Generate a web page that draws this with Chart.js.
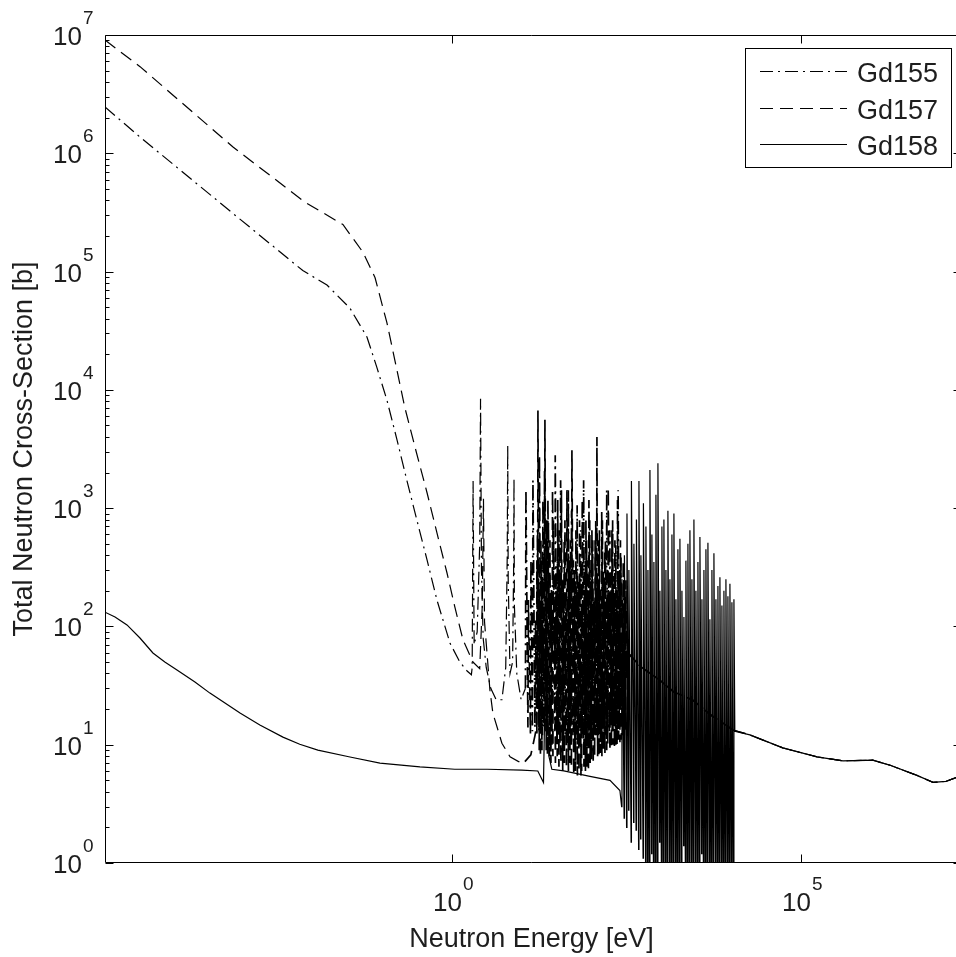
<!DOCTYPE html>
<html>
<head>
<meta charset="utf-8">
<title>Gd total neutron cross-section</title>
<script src="https://cdn.jsdelivr.net/npm/chart.js@4.4.1/dist/chart.umd.min.js"></script>
<style>
  html, body { margin: 0; padding: 0; background: #fff; overflow: hidden; }
  canvas { display: block; }
</style>
</head>
<body>
<canvas id="xs" width="956" height="957"></canvas>
<script>
// ── data: [energy eV, cross-section b] ──────────────────────────────────────

const seriesNames = ["Gd155", "Gd157", "Gd158"]

const gd155Thermal = [
  [1.07e-5, 2.46e6], [3.4e-5, 1.37e6], [7.3e-4, 3.1e5], [7.3e-3, 1.02e5],
  [0.0162, 7.7e4], [0.0346, 4.9e4], [0.0606, 2.8e4], [0.084, 1.55e4],
  [0.117, 8.2e3], [0.163, 3.8e3], [0.227, 1.7e3], [0.315, 790], [0.44, 365],
  [0.61, 167], [0.94, 72], [1.3, 50], [1.65, 42], [1.9, 39]
]

const gd155LowResonances = [
  [1.95, 45], [2.01, 1700], [2.08, 70], [2.3, 90], [2.5, 500], [2.57, 8400],
  [2.65, 300], [2.8, 80], [3.1, 45], [3.6, 30], [4.3, 24], [5.2, 24],
  [5.9, 45], [6.2, 400], [6.3, 3400], [6.4, 250], [6.8, 40], [7.4, 50],
  [7.65, 300], [7.75, 1800], [7.85, 150], [8.5, 40], [9.8, 24]
]

const gd155Resonances = [
  [11.3, 30], [11.49, 1420], [12.27, 14], [12.47, 167], [13.33, 12], [13.55, 363],
  [14.23, 13], [14.47, 1720], [15.46, 14], [15.72, 113], [16.51, 12], [16.78, 650],
  [17.64, 13], [17.93, 2800], [18.84, 15], [19.15, 363], [19.79, 12], [20.12, 1170],
  [20.80, 14], [21.22, 2090], [22.22, 13], [22.59, 246], [23.73, 11], [24.12, 790],
  [25.35, 12], [25.77, 167], [27.08, 10], [27.62, 1420], [29.9, 13], [30.2, 2800],
  [31.93, 11], [32.46, 363], [33.56, 12], [34.12, 650], [35.26, 10], [36.08, 1720],
  [37.66, 13], [38.28, 203], [39.6, 11], [40.5, 535], [42.26, 12], [42.97, 167],
  [45.91, 10], [46.52, 1420], [48.2, 12], [49.03, 363], [50.68, 11], [51.69, 955],
  [54.14, 12], [55.04, 363], [57.83, 10], [58.79, 203], [61.2, 11], [62.19, 1060],
  [64.9, 12], [66.0, 246], [68.9, 10], [70.03, 650], [72.87, 12], [74.08, 167],
  [75.8, 11], [77.07, 1720], [80.45, 12], [81.79, 363], [83.7, 13], [85.1, 535],
  [88.83, 11], [90.3, 203], [92.7, 12], [94.27, 790], [98.04, 13], [99.67, 300],
  [102.3, 11], [104.0, 535], [108.2, 13], [110.0, 167], [113.0, 12], [114.9, 790],
  [119.5, 14], [121.5, 246], [124.7, 12], [126.8, 535], [131.0, 14], [133.2, 203],
  [137.7, 12], [140.0, 955], [144.7, 14], [147.1, 300], [152.1, 13], [154.6, 440],
  [162.4, 12], [165.1, 1420], [171.8, 14], [174.7, 246], [179.9, 13], [182.9, 650],
  [188.5, 15], [191.6, 203], [197.4, 13], [200.7, 790], [208.0, 15], [211.5, 300],
  [219.2, 14], [222.9, 485], [227.4, 16], [231.2, 167], [236.5, 14], [240.5, 1420],
  [249.4, 16], [253.6, 300], [259.5, 15], [263.8, 400], [273.5, 17], [278.1, 167],
  [286.4, 16], [291.2, 330], [298.0, 18], [303.0, 167], [312, 35]
]

const gd157Thermal = [
  [1.07e-5, 9.06e6], [3.4e-5, 5.4e6], [7.3e-4, 1.13e6], [7.8e-3, 3.87e5],
  [0.0274, 2.5e5], [0.053, 1.46e5], [0.079, 8.9e4], [0.117, 3.7e4],
  [0.163, 1.47e4], [0.21, 7.2e3], [0.295, 3.3e3], [0.44, 1.35e3], [0.61, 617],
  [0.85, 283], [1.1, 146], [1.44, 77], [2.0, 50], [2.5, 44]
]

const gd157LowResonances = [
  [2.72, 150], [2.83, 1200], [2.93, 110], [3.5, 29], [3.86, 18.5], [5.2, 10.3],
  [6.8, 7.9], [9.0, 7.2], [11.1, 7.2], [13.5, 8.2], [15.5, 12]
]

const gd157Resonances = [
  [16.24, 14], [16.51, 363], [16.85, 20], [17.07, 6700], [17.82, 9], [18.11, 167],
  [18.53, 8], [18.84, 535], [19.47, 9], [19.79, 203], [21.14, 15], [21.49, 5580],
  [22.45, 9], [22.81, 790], [23.34, 8], [23.73, 1170], [24.94, 8], [25.35, 535],
  [26.2, 7], [26.64, 203], [27.99, 8], [28.45, 790], [30.4, 7], [30.9, 246],
  [32.25, 8], [32.78, 1170], [34.12, 6.5], [34.69, 300], [36.44, 7], [37.05, 1420],
  [38.68, 6], [39.32, 246], [40.9, 7], [41.58, 790], [43.7, 6.5], [44.42, 1420],
  [46.66, 6], [47.44, 363], [49.03, 7], [49.84, 535], [51.52, 6.5], [52.38, 3090],
  [55.6, 5.5], [56.51, 300], [58.8, 6], [59.77, 650], [62.8, 5.5], [63.85, 203],
  [66.2, 6], [67.33, 790], [70.5, 5.5], [71.67, 363], [72.2, 6], [73.59, 1170],
  [77.84, 6.5], [79.13, 203], [81.8, 6], [83.16, 790], [85.95, 6.5], [87.38, 363],
  [90.3, 6], [91.82, 1170], [95.5, 7], [97.11, 246], [99.7, 7.5], [101.3, 650],
  [105.8, 7], [107.5, 167], [110.8, 8], [112.6, 535], [117.6, 12], [119.5, 4000],
  [122.3, 8], [124.3, 246], [127.6, 8], [129.7, 650], [134.2, 8.5], [136.4, 167],
  [140.9, 8], [143.2, 790], [148.1, 9], [150.6, 246], [155.6, 8.5], [158.2, 535],
  [165.1, 9], [167.8, 167], [170.7, 10], [173.5, 1480], [183.5, 9], [186.6, 300],
  [192.9, 9.5], [196.1, 650], [202.6, 10], [206.0, 203], [212.9, 9.5], [216.4, 535],
  [223.7, 10], [227.4, 203], [232, 10], [235.8, 1170], [244.6, 11], [248.6, 246],
  [255.3, 10.5], [259.5, 535], [268.2, 11], [272.6, 167], [280, 12], [284.6, 363],
  [294.1, 12], [299.0, 167], [306.0, 13], [311.1, 246], [318, 40]
]

// smooth (unresolved) part shared by Gd155 and Gd157
const unresolvedTail = [
  [330, 60], [500, 46], [955, 35], [1500, 28], [2800, 23.9], [5000, 18],
  [1.07e4, 13.3]
]

const gd158Thermal = [
  [1.07e-5, 132], [1.49e-5, 120], [2.21e-5, 103], [3.39e-5, 79.8], [5.2e-5, 59.6],
  [7.7e-5, 50], [1.15e-4, 42.8], [2.08e-4, 33.9], [3.41e-4, 27.3], [5.6e-4, 22.5],
  [9.2e-4, 18.5], [1.77e-3, 14.7], [3.79e-3, 11.6], [6.6e-3, 10.1], [0.012, 9.0],
  [0.0346, 7.87], [0.093, 7.0], [0.348, 6.5], [1.1, 6.2], [3.2, 6.2], [10, 6.1],
  [17, 6.0], [20.5, 4.8], [21.8, 40], [22.3, 150], [22.8, 30], [24.5, 8],
  [27, 6.2], [40, 6.0], [95, 5.4], [184, 5.0], [255, 4.1]
]

const gd158Resonances = [
  [270, 3.0], [273, 250], [293, 2.4], [296, 400], [318, 2.0], [322, 900],
  [340, 2.8], [343, 300], [369, 1.5], [373, 1700], [401, 2.2], [405, 500],
  [435, 1.9], [440, 800], [473, 1.3], [478, 1700], [505, 1.6], [510, 400],
  [548, 1.1], [554, 1100], [596, 0.8], [602, 700], [636, 0.5], [643, 300],
  [680, 0.3], [687, 2100], [726, 1.2], [733, 600], [776, 0.4], [783, 350],
  [828, 0.3], [837, 1300], [885, 0.3], [894, 2400], [945, 1.5], [955, 200],
  [1010, 0.4], [1020, 700], [1078, 0.3], [1089, 800], [1152, 0.5], [1164, 300],
  [1231, 0.3], [1243, 950], [1315, 0.9], [1328, 250], [1405, 0.3], [1419, 600],
  [1500, 0.3], [1515, 900], [1603, 0.6], [1619, 170], [1712, 0.3], [1729, 450],
  [1829, 0.3], [1847, 550], [1953, 0.5], [1973, 200], [2087, 1.4], [2108, 120],
  [2228, 0.4], [2251, 360], [2381, 0.3], [2405, 500], [2543, 0.3], [2569, 650],
  [2717, 0.6], [2744, 250], [2902, 0.3], [2931, 800], [3100, 0.7], [3131, 200],
  [3312, 0.4], [3345, 350], [3537, 0.3], [3573, 570], [3779, 1.2], [3817, 170],
  [4036, 0.4], [4077, 300], [4311, 0.3], [4355, 450], [4605, 0.3], [4652, 510],
  [4919, 0.8], [4969, 115], [5255, 0.3], [5308, 300], [5613, 0.3], [5670, 415],
  [5996, 1.0], [6057, 170], [6405, 0.4], [6470, 220], [6842, 0.3], [6911, 260],
  [7308, 0.6], [7382, 150], [7807, 0.3], [7886, 200], [8340, 0.3], [8424, 250],
  [8909, 0.5], [8999, 180], [9516, 0.3], [9612, 230], [1.017e4, 0.4], [1.027e4, 160],
  [1.086e4, 0.3], [1.097e4, 170], [1.13e4, 13]
]

// fast region, where the three curves lie on top of each other
const fastTail = [
  [1.86e4, 12.1], [5.5e4, 9.4], [1.7e5, 7.9], [4.0e5, 7.3], [1.07e6, 7.4],
  [1.9e6, 6.7], [4.6e6, 5.5], [7.8e6, 4.8], [1.2e7, 4.9], [2.0e7, 5.5]
]

// axis limits and tick labels; the box ends at 2e7, just past the window edge
const xMin = 1.07e-5, xMax = 1.667e7, xAxisEnd = 2e7
const yMin = 1, yMax = 1e7
const xTickValues = [1, 1e5]
const xTickExps = ["0", "5"]
const yTickValues = [1, 10, 100, 1e3, 1e4, 1e5, 1e6, 1e7]
const yTickExps = ["0", "1", "2", "3", "4", "5", "6", "7"]
const yMinorSteps = [2, 3, 4, 5, 6, 7, 8, 9]

const xTitle = "Neutron Energy [eV]"
const yTitle = "Total Neutron Cross-Section [b]"

// energy span where the resonances crowd together
const denseFrom = 11, denseTo = 1.1e4

// ── helpers ─────────────────────────────────────────────────────────────────

const toXY = pts => pts.map(([x, y]) => ({x, y}))

const FONT = '"Liberation Sans", Arial, Helvetica, sans-serif'
const INK = "#1e1e1e"

const dashes = {
  Gd155: [13, 5, 2, 5],
  Gd157: [13, 7],
  Gd158: []
}

const series = [
  [...gd155Thermal, ...gd155LowResonances, ...gd155Resonances, ...unresolvedTail, ...fastTail],
  [...gd157Thermal, ...gd157LowResonances, ...gd157Resonances, ...unresolvedTail, ...fastTail],
  [...gd158Thermal, ...gd158Resonances, ...fastTail]
]

// ── MATLAB-style box, inward ticks, superscript labels, legend ──────────────

const matlabAxes = {
  id: "matlabAxes",
  afterDatasetsDraw(chart) {
    const {ctx, chartArea: a, scales: {x, y}} = chart
    const L = Math.round(a.left) + 0.5
    const R = Math.round(x.getPixelForValue(xAxisEnd)) - 0.5
    const T = Math.round(a.top) + 0.5
    const B = Math.round(a.bottom) - 0.5

    ctx.save()
    ctx.strokeStyle = "#000"
    ctx.lineWidth = 1
    ctx.setLineDash([])

    ctx.beginPath()
    ctx.rect(L, T, R - L, B - T)
    ctx.stroke()

    // y ticks, major + minor, left and right
    ctx.beginPath()
    yTickValues.forEach((v, i) => {
      const py = Math.round(y.getPixelForValue(v)) + 0.5
      ctx.moveTo(L, py); ctx.lineTo(L + 8, py)
      ctx.moveTo(R, py); ctx.lineTo(R - 8, py)
      if (i < yTickValues.length - 1) {
        yMinorSteps.forEach(m => {
          const my = Math.round(y.getPixelForValue(v * m)) + 0.5
          ctx.moveTo(L, my); ctx.lineTo(L + 4, my)
          ctx.moveTo(R, my); ctx.lineTo(R - 4, my)
        })
      }
    })
    // x ticks, bottom and top
    xTickValues.forEach(v => {
      const px = Math.round(x.getPixelForValue(v)) + 0.5
      ctx.moveTo(px, B); ctx.lineTo(px, B - 8)
      ctx.moveTo(px, T); ctx.lineTo(px, T + 8)
    })
    ctx.stroke()

    // tick labels: "10" with a raised exponent
    ctx.fillStyle = INK
    ctx.textBaseline = "alphabetic"
    yTickValues.forEach((v, i) => {
      const py = y.getPixelForValue(v)
      ctx.font = "26px " + FONT
      ctx.textAlign = "right"
      ctx.fillText("10", a.left - 23, py + 10)
      ctx.font = "19px " + FONT
      ctx.textAlign = "left"
      ctx.fillText(yTickExps[i], a.left - 22, py - 11)
    })
    xTickValues.forEach((v, i) => {
      const px = x.getPixelForValue(v)
      ctx.font = "26px " + FONT
      ctx.textAlign = "right"
      ctx.fillText("10", px + 10, a.bottom + 48)
      ctx.font = "19px " + FONT
      ctx.textAlign = "left"
      ctx.fillText(xTickExps[i], px + 11, a.bottom + 27)
    })

    // axis titles
    ctx.font = "27px " + FONT
    ctx.textAlign = "center"
    ctx.fillText(xTitle, (L + R) / 2 - 2, a.bottom + 84)
    ctx.save()
    ctx.translate(32, (a.top + a.bottom) / 2)
    ctx.rotate(-Math.PI / 2)
    ctx.fillText(yTitle, 0, 0)
    ctx.restore()

    // legend box
    const bx = 745.5, by = 48.5, bw = 206, bh = 119
    ctx.fillStyle = "#fff"
    ctx.fillRect(bx, by, bw, bh)
    ctx.strokeRect(bx, by, bw, bh)
    const rowY = [71.5, 108.5, 144.5]
    chart.data.datasets.forEach((ds, i) => {
      ctx.beginPath()
      ctx.strokeStyle = "#000"
      ctx.setLineDash(ds.borderDash)
      ctx.lineWidth = ds.borderWidth
      ctx.moveTo(760, rowY[i])
      ctx.lineTo(847, rowY[i])
      ctx.stroke()
      ctx.setLineDash([])
      ctx.fillStyle = INK
      ctx.font = "27px " + FONT
      ctx.textAlign = "left"
      ctx.fillText(ds.label, 857, rowY[i] + 10)
    })
    ctx.restore()
  }
}

// ── chart ───────────────────────────────────────────────────────────────────

new Chart(document.getElementById("xs"), {
  type: "scatter",
  data: {
    datasets: seriesNames.map((name, i) => ({
      label: name,
      data: toXY(series[i]),
      showLine: true,
      borderColor: "#000",
      borderWidth: 1.2,
      borderDash: dashes[name],
      borderCapStyle: "butt",
      pointRadius: 0,
      pointHoverRadius: 0,
      fill: false,
      tension: 0,
      segment: {
        borderWidth: c =>
          c.p0.parsed.x > denseFrom && c.p1.parsed.x < denseTo && name !== "Gd158" ? 1.7 : undefined
      }
    }))
  },
  options: {
    responsive: false,
    animation: false,
    devicePixelRatio: 1,
    events: [],
    layout: { padding: { left: 105, top: 35, right: 0, bottom: 94 } },
    plugins: { legend: { display: false }, tooltip: { enabled: false } },
    scales: {
      x: { type: "logarithmic", min: xMin, max: xMax, display: false },
      y: { type: "logarithmic", min: yMin, max: yMax, display: false }
    }
  },
  plugins: [matlabAxes]
})
</script>
</body>
</html>
